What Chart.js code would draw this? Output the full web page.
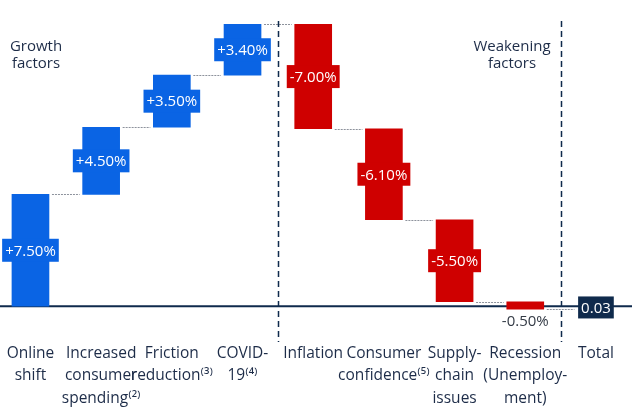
<!DOCTYPE html>
<html>
<head>
<meta charset="utf-8">
<script src="https://cdn.jsdelivr.net/npm/chart.js@4/dist/chart.umd.min.js"></script>
<style>
html, body { margin: 0; padding: 0; background: #fff; }
#wrap { position: relative; width: 640px; height: 410px; }
</style>
</head>
<body>
<div id="wrap"><canvas id="chart"></canvas></div>
<script>
const categories = [
    ['Online', 'shift'],
    ['Increased', 'consumer', 'spending⁽²⁾'],
    ['Friction', 'reduction⁽³⁾'],
    ['COVID-', '19⁽⁴⁾'],
    ['Inflation'],
    ['Consumer', 'confidence⁽⁵⁾'],
    ['Supply-', 'chain', 'issues'],
    ['Recession', '(Unemploy-', 'ment)'],
    ['Total']
];
const changes = [7.5, 4.5, 3.5, 3.4, -7.0, -6.1, -5.5, -0.5];
const changeLabels = ['+7.50%', '+4.50%', '+3.50%', '+3.40%', '-7.00%', '-6.10%', '-5.50%', '-0.50%'];
const totalValue = 0.03;
const totalLabel = '0.03';
const groupTitles = [['Growth', 'factors'], ['Weakening', 'factors']];

const BLUE = '#0a64e4';
const RED = '#cf0000';
const NAVY = '#0f2a4c';
const TEXT = '#1d2c48';
const FONT = '"Open Sans", "Noto Sans", "DejaVu Sans", sans-serif';

// running totals for the floating bars
var levels = [];
var run = 0;
var bars = changes.map((v, i) => {
    var start = run;
    run += v;
    levels.push(run);
    return { x: i, y: [start, run] };
});
bars.push({ x: changes.length, y: [run, totalValue] });

var colors = changes.map(v => v >= 0 ? BLUE : RED);
colors.push('rgba(0,0,0,0)');

const waterfallExtras = {
    id: 'waterfallExtras',
    beforeDatasetsDraw(chart) {
        var ctx = chart.ctx;
        var area = chart.chartArea;
        var y = chart.scales.y;
        var meta = chart.getDatasetMeta(0);
        ctx.save();
        // zero axis line
        ctx.strokeStyle = NAVY;
        ctx.lineWidth = 2;
        ctx.beginPath();
        ctx.moveTo(area.left, y.getPixelForValue(0));
        ctx.lineTo(area.right, y.getPixelForValue(0));
        ctx.stroke();
        // dotted connectors between bars
        ctx.strokeStyle = '#8d929c';
        ctx.lineWidth = 1;
        ctx.setLineDash([2, 1]);
        for (var i = 0; i < levels.length; i++) {
            var a = meta.data[i], b = meta.data[i + 1];
            var py = Math.round(y.getPixelForValue(levels[i])) + 0.5;
            ctx.beginPath();
            ctx.moveTo(a.x + a.width / 2 + 3, py);
            ctx.lineTo(b.x - b.width / 2 - 3, py);
            ctx.stroke();
        }
        ctx.restore();
    },
    afterDatasetsDraw(chart) {
        var ctx = chart.ctx;
        var area = chart.chartArea;
        var x = chart.scales.x;
        var meta = chart.getDatasetMeta(0);
        ctx.save();
        ctx.font = '15px ' + FONT;
        ctx.textAlign = 'center';
        ctx.textBaseline = 'middle';
        // value boxes on the bars
        meta.data.forEach((bar, i) => {
            var cy = (bar.y + bar.base) / 2;
            if (i < changes.length) {
                if (Math.abs(bar.base - bar.y) < 20) {
                    ctx.fillStyle = '#333a45';
                    ctx.fillText(changeLabels[i], bar.x, bar.y + 20);
                    return;
                }
                var w = ctx.measureText(changeLabels[i]).width + 6;
                ctx.fillStyle = colors[i];
                ctx.fillRect(bar.x - w / 2, cy - 11.5, w, 23);
                ctx.fillStyle = '#fff';
                ctx.fillText(changeLabels[i], bar.x, cy + 1);
            } else {
                var tw = ctx.measureText(totalLabel).width + 6;
                ctx.fillStyle = NAVY;
                ctx.fillRect(bar.x - tw / 2, cy - 11, tw, 22);
                ctx.fillStyle = '#fff';
                ctx.fillText(totalLabel, bar.x, cy + 1);
            }
        });
        // dashed dividers between groups
        ctx.strokeStyle = NAVY;
        ctx.lineWidth = 1.5;
        ctx.setLineDash([6, 4]);
        [3.5, 7.5].forEach(v => {
            var px = Math.round(x.getPixelForValue(v)) + 0.5;
            ctx.beginPath();
            ctx.moveTo(px, 21);
            ctx.lineTo(px, area.bottom + 6);
            ctx.stroke();
        });
        // group titles
        ctx.setLineDash([]);
        ctx.fillStyle = TEXT;
        ctx.font = '15px ' + FONT;
        [[36, groupTitles[0]], [512, groupTitles[1]]].forEach(t => {
            t[1].forEach((line, j) => ctx.fillText(line, t[0], 47 + j * 17));
        });
        ctx.restore();
    }
};

var ctx = document.getElementById('chart').getContext('2d');
new Chart(ctx, {
    type: 'bar',
    data: {
        datasets: [{
            data: bars,
            backgroundColor: colors,
            borderWidth: 0,
            barThickness: 37
        }]
    },
    options: {
        responsive: true,
        maintainAspectRatio: false,
        animation: false,
        layout: { padding: { left: 0, right: 8, top: 8, bottom: 0 } },
        plugins: {
            legend: { display: false },
            tooltip: { enabled: false }
        },
        scales: {
            x: {
                type: 'linear',
                offset: false,
                min: -0.431,
                max: 8.51,
                grid: { display: false, drawTicks: false, offset: false },
                border: { display: false },
                afterBuildTicks: scale => {
                    scale.ticks = categories.map((c, i) => ({ value: i }));
                },
                afterFit: scale => { scale.height = 74; },
                ticks: {
                    autoSkip: false,
                    maxRotation: 0,
                    padding: 6,
                    color: TEXT,
                    font: { family: FONT, size: 15.5, lineHeight: 1.45 },
                    callback: v => categories[v]
                }
            },
            y: {
                min: -2,
                max: 20,
                display: false
            }
        }
    },
    plugins: [waterfallExtras]
});
</script>
</body>
</html>
